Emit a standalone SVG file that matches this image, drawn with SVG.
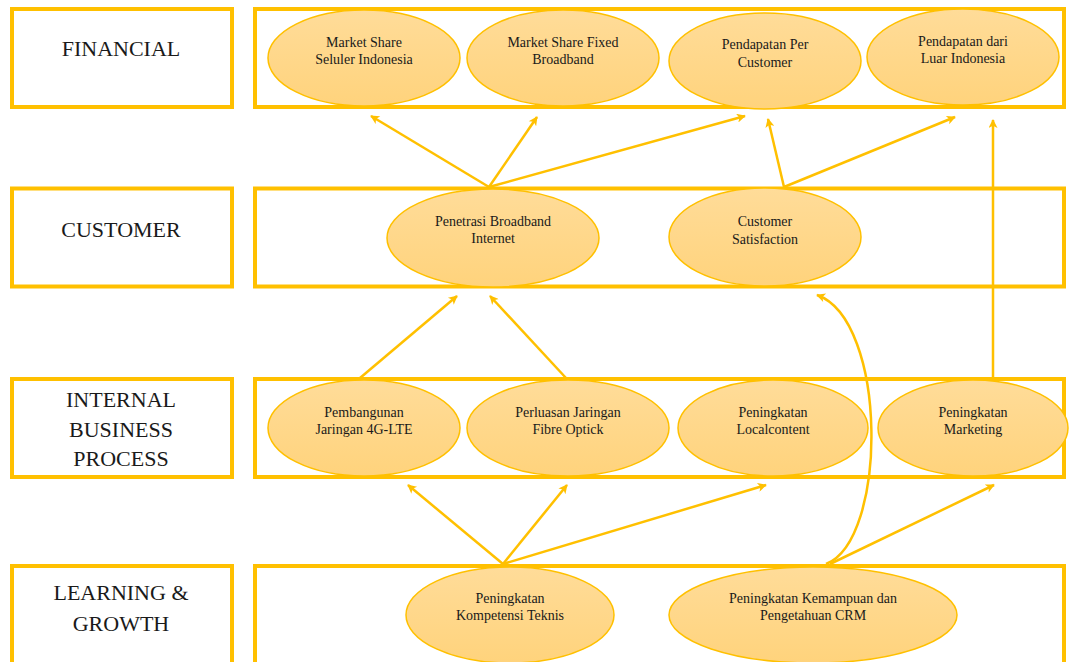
<svg xmlns="http://www.w3.org/2000/svg" width="1070" height="662" viewBox="0 0 1070 662">
<defs>
<linearGradient id="g" x1="0" y1="0" x2="0" y2="1">
<stop offset="0" stop-color="#FFDC99"/>
<stop offset="1" stop-color="#FFD37C"/>
</linearGradient>
<marker id="ah" viewBox="0 0 10 10" refX="9" refY="5" markerWidth="11" markerHeight="9" markerUnits="userSpaceOnUse" orient="auto">
<path d="M0,0 L10,5 L0,10 L2.5,5 z" fill="#FFC000"/>
</marker>
<style>
.box{fill:#fff;stroke:#FFC000;stroke-width:4}
.el{fill:url(#g);stroke:#FFC000;stroke-width:1.5}
.lbl{font-family:"Liberation Serif","Times New Roman",serif;font-size:22px;fill:#1a1a1a;text-anchor:middle}
.t{font-family:"Liberation Serif","Times New Roman",serif;font-size:14px;fill:#1a1a1a;text-anchor:middle}
.c{fill:none;stroke:#FFC000;stroke-width:2.5;marker-end:url(#ah)}
</style>
</defs>
<rect width="1070" height="662" fill="#fff"/>

<g id="row-financial">
<rect class="box" x="12" y="9" width="220" height="98"/>
<rect class="box" x="255" y="9" width="809" height="98"/>
<text class="lbl" x="121" y="56">FINANCIAL</text>
</g>
<g id="row-customer">
<rect class="box" x="12" y="188.5" width="220" height="98"/>
<rect class="box" x="255" y="188.5" width="809" height="98"/>
<text class="lbl" x="121" y="237">CUSTOMER</text>
</g>
<g id="row-internal">
<rect class="box" x="12" y="379" width="220" height="98"/>
<rect class="box" x="255" y="379" width="809" height="98"/>
<text class="lbl" x="121" y="407">INTERNAL</text>
<text class="lbl" x="121" y="437">BUSINESS</text>
<text class="lbl" x="121" y="466">PROCESS</text>
</g>
<g id="row-learning">
<rect class="box" x="12" y="566" width="220" height="98"/>
<rect class="box" x="255" y="566" width="809" height="98"/>
<text class="lbl" x="121" y="600">LEARNING &amp;</text>
<text class="lbl" x="121" y="631">GROWTH</text>
</g>

<g id="n-market-seluler">
<ellipse class="el" cx="364" cy="58" rx="96" ry="48"/>
<text class="t" x="364" y="47">Market Share</text>
<text class="t" x="364" y="64">Seluler Indonesia</text>
</g>
<g id="n-market-fixed">
<ellipse class="el" cx="563" cy="58" rx="96" ry="48"/>
<text class="t" x="563" y="47">Market Share Fixed</text>
<text class="t" x="563" y="64">Broadband</text>
</g>
<g id="n-pendapatan-per">
<ellipse class="el" cx="765" cy="61" rx="96" ry="48"/>
<text class="t" x="765" y="49">Pendapatan Per</text>
<text class="t" x="765" y="67">Customer</text>
</g>
<g id="n-pendapatan-luar">
<ellipse class="el" cx="963" cy="57" rx="96" ry="48"/>
<text class="t" x="963" y="46">Pendapatan dari</text>
<text class="t" x="963" y="63">Luar Indonesia</text>
</g>

<g id="n-penetrasi">
<ellipse class="el" cx="493" cy="238" rx="106" ry="49"/>
<text class="t" x="493" y="226">Penetrasi Broadband</text>
<text class="t" x="493" y="243">Internet</text>
</g>
<g id="n-satisfaction">
<ellipse class="el" cx="765" cy="237" rx="96" ry="49"/>
<text class="t" x="765" y="226">Customer</text>
<text class="t" x="765" y="244">Satisfaction</text>
</g>

<g id="n-4g">
<ellipse class="el" cx="364" cy="428" rx="96" ry="48"/>
<text class="t" x="364" y="417">Pembangunan</text>
<text class="t" x="364" y="434">Jaringan 4G-LTE</text>
</g>
<g id="n-fibre">
<ellipse class="el" cx="568" cy="428" rx="101" ry="48"/>
<text class="t" x="568" y="417">Perluasan Jaringan</text>
<text class="t" x="568" y="434">Fibre Optick</text>
</g>
<g id="n-localcontent">
<ellipse class="el" cx="773" cy="428" rx="95" ry="48"/>
<text class="t" x="773" y="417">Peningkatan</text>
<text class="t" x="773" y="434">Localcontent</text>
</g>
<g id="n-marketing">
<ellipse class="el" cx="973" cy="428" rx="95" ry="48"/>
<text class="t" x="973" y="417">Peningkatan</text>
<text class="t" x="973" y="434">Marketing</text>
</g>

<g id="n-kompetensi">
<ellipse class="el" cx="510" cy="615" rx="104" ry="48"/>
<text class="t" x="510" y="603">Peningkatan</text>
<text class="t" x="510" y="620">Kompetensi Teknis</text>
</g>
<g id="n-crm">
<ellipse class="el" cx="813" cy="615" rx="144" ry="48"/>
<text class="t" x="813" y="603">Peningkatan Kemampuan dan</text>
<text class="t" x="813" y="620">Pengetahuan CRM</text>
</g>

<g id="connectors">
<line class="c" x1="489" y1="187" x2="371" y2="116"/>
<line class="c" x1="489" y1="187" x2="537" y2="117"/>
<line class="c" x1="489" y1="187" x2="745" y2="116"/>
<line class="c" x1="784" y1="187" x2="768" y2="119"/>
<line class="c" x1="784" y1="187" x2="955" y2="117"/>
<line class="c" x1="993" y1="379" x2="993" y2="120"/>
<line class="c" x1="360" y1="378" x2="457" y2="296"/>
<line class="c" x1="566" y1="378" x2="490" y2="296"/>
<path class="c" d="M826,564 C888,540 888,320 817,295"/>
<line class="c" x1="503" y1="564" x2="408" y2="485"/>
<line class="c" x1="503" y1="564" x2="567" y2="485"/>
<line class="c" x1="503" y1="564" x2="766" y2="485"/>
<line class="c" x1="830" y1="564" x2="994" y2="485"/>
</g>
</svg>
